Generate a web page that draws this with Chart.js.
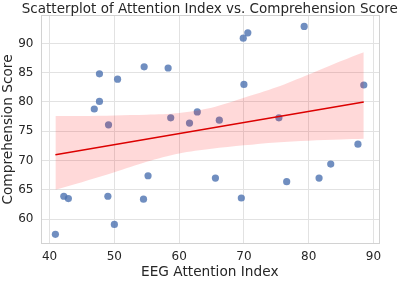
<!DOCTYPE html>
<html>
<head>
<meta charset="utf-8">
<script src="https://cdn.jsdelivr.net/npm/chart.js@4.4.1/dist/chart.umd.min.js"></script>
<style>
  html, body { margin: 0; padding: 0; background: #fff; }
  #wrap { width: 400px; height: 281px; }
</style>
</head>
<body>
<div id="wrap"><canvas id="chart_scatter"></canvas></div>
<script>
// values
var attention = [40.9, 42.2, 42.9, 46.9, 47.7, 47.7, 49.0, 49.1, 50.0, 50.5,
                 54.5, 54.6, 55.2, 58.3, 58.7, 61.6, 62.8, 65.6, 66.2, 69.6,
                 69.9, 70.0, 70.6, 75.4, 76.6, 79.3, 81.6, 83.4, 87.6, 88.5];
var comprehension = [57.4, 63.9, 63.5, 78.8, 80.1, 84.8, 63.9, 76.1, 59.1, 83.9,
                     63.4, 86.0, 67.4, 85.8, 77.3, 76.4, 78.3, 67.0, 76.9, 63.6,
                     90.9, 83.0, 91.8, 77.3, 66.4, 92.9, 67.0, 69.4, 72.8, 82.9];

// regression line end points and confidence band
var fitX = [40.9, 88.5];
var fitY = [71.0, 80.0];
var bandX     = [40.9, 45, 50, 55, 60, 65, 70, 75, 80, 85, 88.5];
var bandUpper = [77.6, 77.6, 77.7, 77.8, 78.1, 79.0, 80.7, 82.5, 84.7, 87.0, 88.5];
var bandLower = [65.0, 66.3, 68.0, 69.8, 71.2, 72.0, 72.6, 73.1, 73.4, 73.6, 73.7];

var xTicks = [40, 50, 60, 70, 80, 90];
var yTicks = [60, 65, 70, 75, 80, 85, 90];

var titleText = 'Scatterplot of Attention Index vs. Comprehension Score';
var textColor = '#262626';
var gridColor = '#e2e2e2';

function pairs(xs, ys) {
    var out = [];
    for (var i = 0; i < xs.length; i++) {
        out.push({x: xs[i], y: ys[i]});
    }
    return out;
}

// title over the plot area and frame on all four sides
var framePlugin = {
    id: 'frame',
    afterDraw: function (chart) {
        var c = chart.ctx, a = chart.chartArea;
        c.save();
        c.strokeStyle = '#d2d2d2';
        c.lineWidth = 1;
        c.strokeRect(Math.round(a.left) + 0.5, Math.round(a.top) + 0.5,
                     Math.round(a.right - a.left) - 1, Math.round(a.bottom - a.top) - 1);
        c.fillStyle = textColor;
        c.font = '13.5px "DejaVu Sans"';
        c.textAlign = 'center';
        c.textBaseline = 'alphabetic';
        c.fillText(titleText, (a.left + a.right) / 2, 12.5);
        c.restore();
    }
};

var ctx = document.getElementById('chart_scatter').getContext('2d');
var chart = new Chart(ctx, {
    type: 'scatter',
    data: {
        datasets: [
            {
                type: 'line',
                data: pairs(bandX, bandLower),
                borderWidth: 0,
                pointRadius: 0,
                fill: false,
                tension: 0.3,
                order: 2
            },
            {
                type: 'line',
                data: pairs(bandX, bandUpper),
                borderWidth: 0,
                pointRadius: 0,
                backgroundColor: 'rgba(255, 0, 0, 0.15)',
                fill: '-1',
                tension: 0.3,
                order: 2
            },
            {
                type: 'line',
                data: pairs(fitX, fitY),
                borderColor: 'rgb(220, 0, 0)',
                borderWidth: 1.5,
                pointRadius: 0,
                fill: false,
                order: 1
            },
            {
                data: pairs(attention, comprehension),
                backgroundColor: 'rgba(76, 114, 176, 0.8)',
                borderWidth: 0,
                pointRadius: 3.6,
                order: 3
            }
        ]
    },
    options: {
        responsive: true,
        maintainAspectRatio: false,
        animation: false,
        events: [],
        layout: { padding: { top: 15, right: 21, left: 0, bottom: 0 } },
        plugins: {
            legend: { display: false },
            tooltip: { enabled: false },
            title: { display: false }
        },
        scales: {
            x: {
                type: 'linear',
                min: 38.6,
                max: 90.85,
                afterBuildTicks: function (s) { s.ticks = xTicks.map(function (v) { return {value: v}; }); },
                afterFit: function (s) { s.height = 37; },
                grid: { color: gridColor, drawTicks: false },
                border: { display: false },
                ticks: { color: textColor, font: { family: 'DejaVu Sans', size: 12 }, padding: 6, maxRotation: 0 },
                title: {
                    display: true,
                    text: 'EEG Attention Index',
                    color: textColor,
                    font: { family: 'DejaVu Sans', size: 13.7 },
                    padding: { top: 0, bottom: 0 }
                }
            },
            y: {
                type: 'linear',
                min: 55.75,
                max: 94.85,
                afterBuildTicks: function (s) { s.ticks = yTicks.map(function (v) { return {value: v}; }); },
                afterFit: function (s) { s.width = 40.5; },
                grid: { color: gridColor, drawTicks: false },
                border: { display: false },
                ticks: { color: textColor, font: { family: 'DejaVu Sans', size: 12 }, padding: 7 },
                title: {
                    display: true,
                    text: 'Comprehension Score',
                    color: textColor,
                    font: { family: 'DejaVu Sans', size: 13.7 },
                    padding: { top: 0, bottom: 0 }
                }
            }
        }
    },
    plugins: [framePlugin]
});
</script>
</body>
</html>
